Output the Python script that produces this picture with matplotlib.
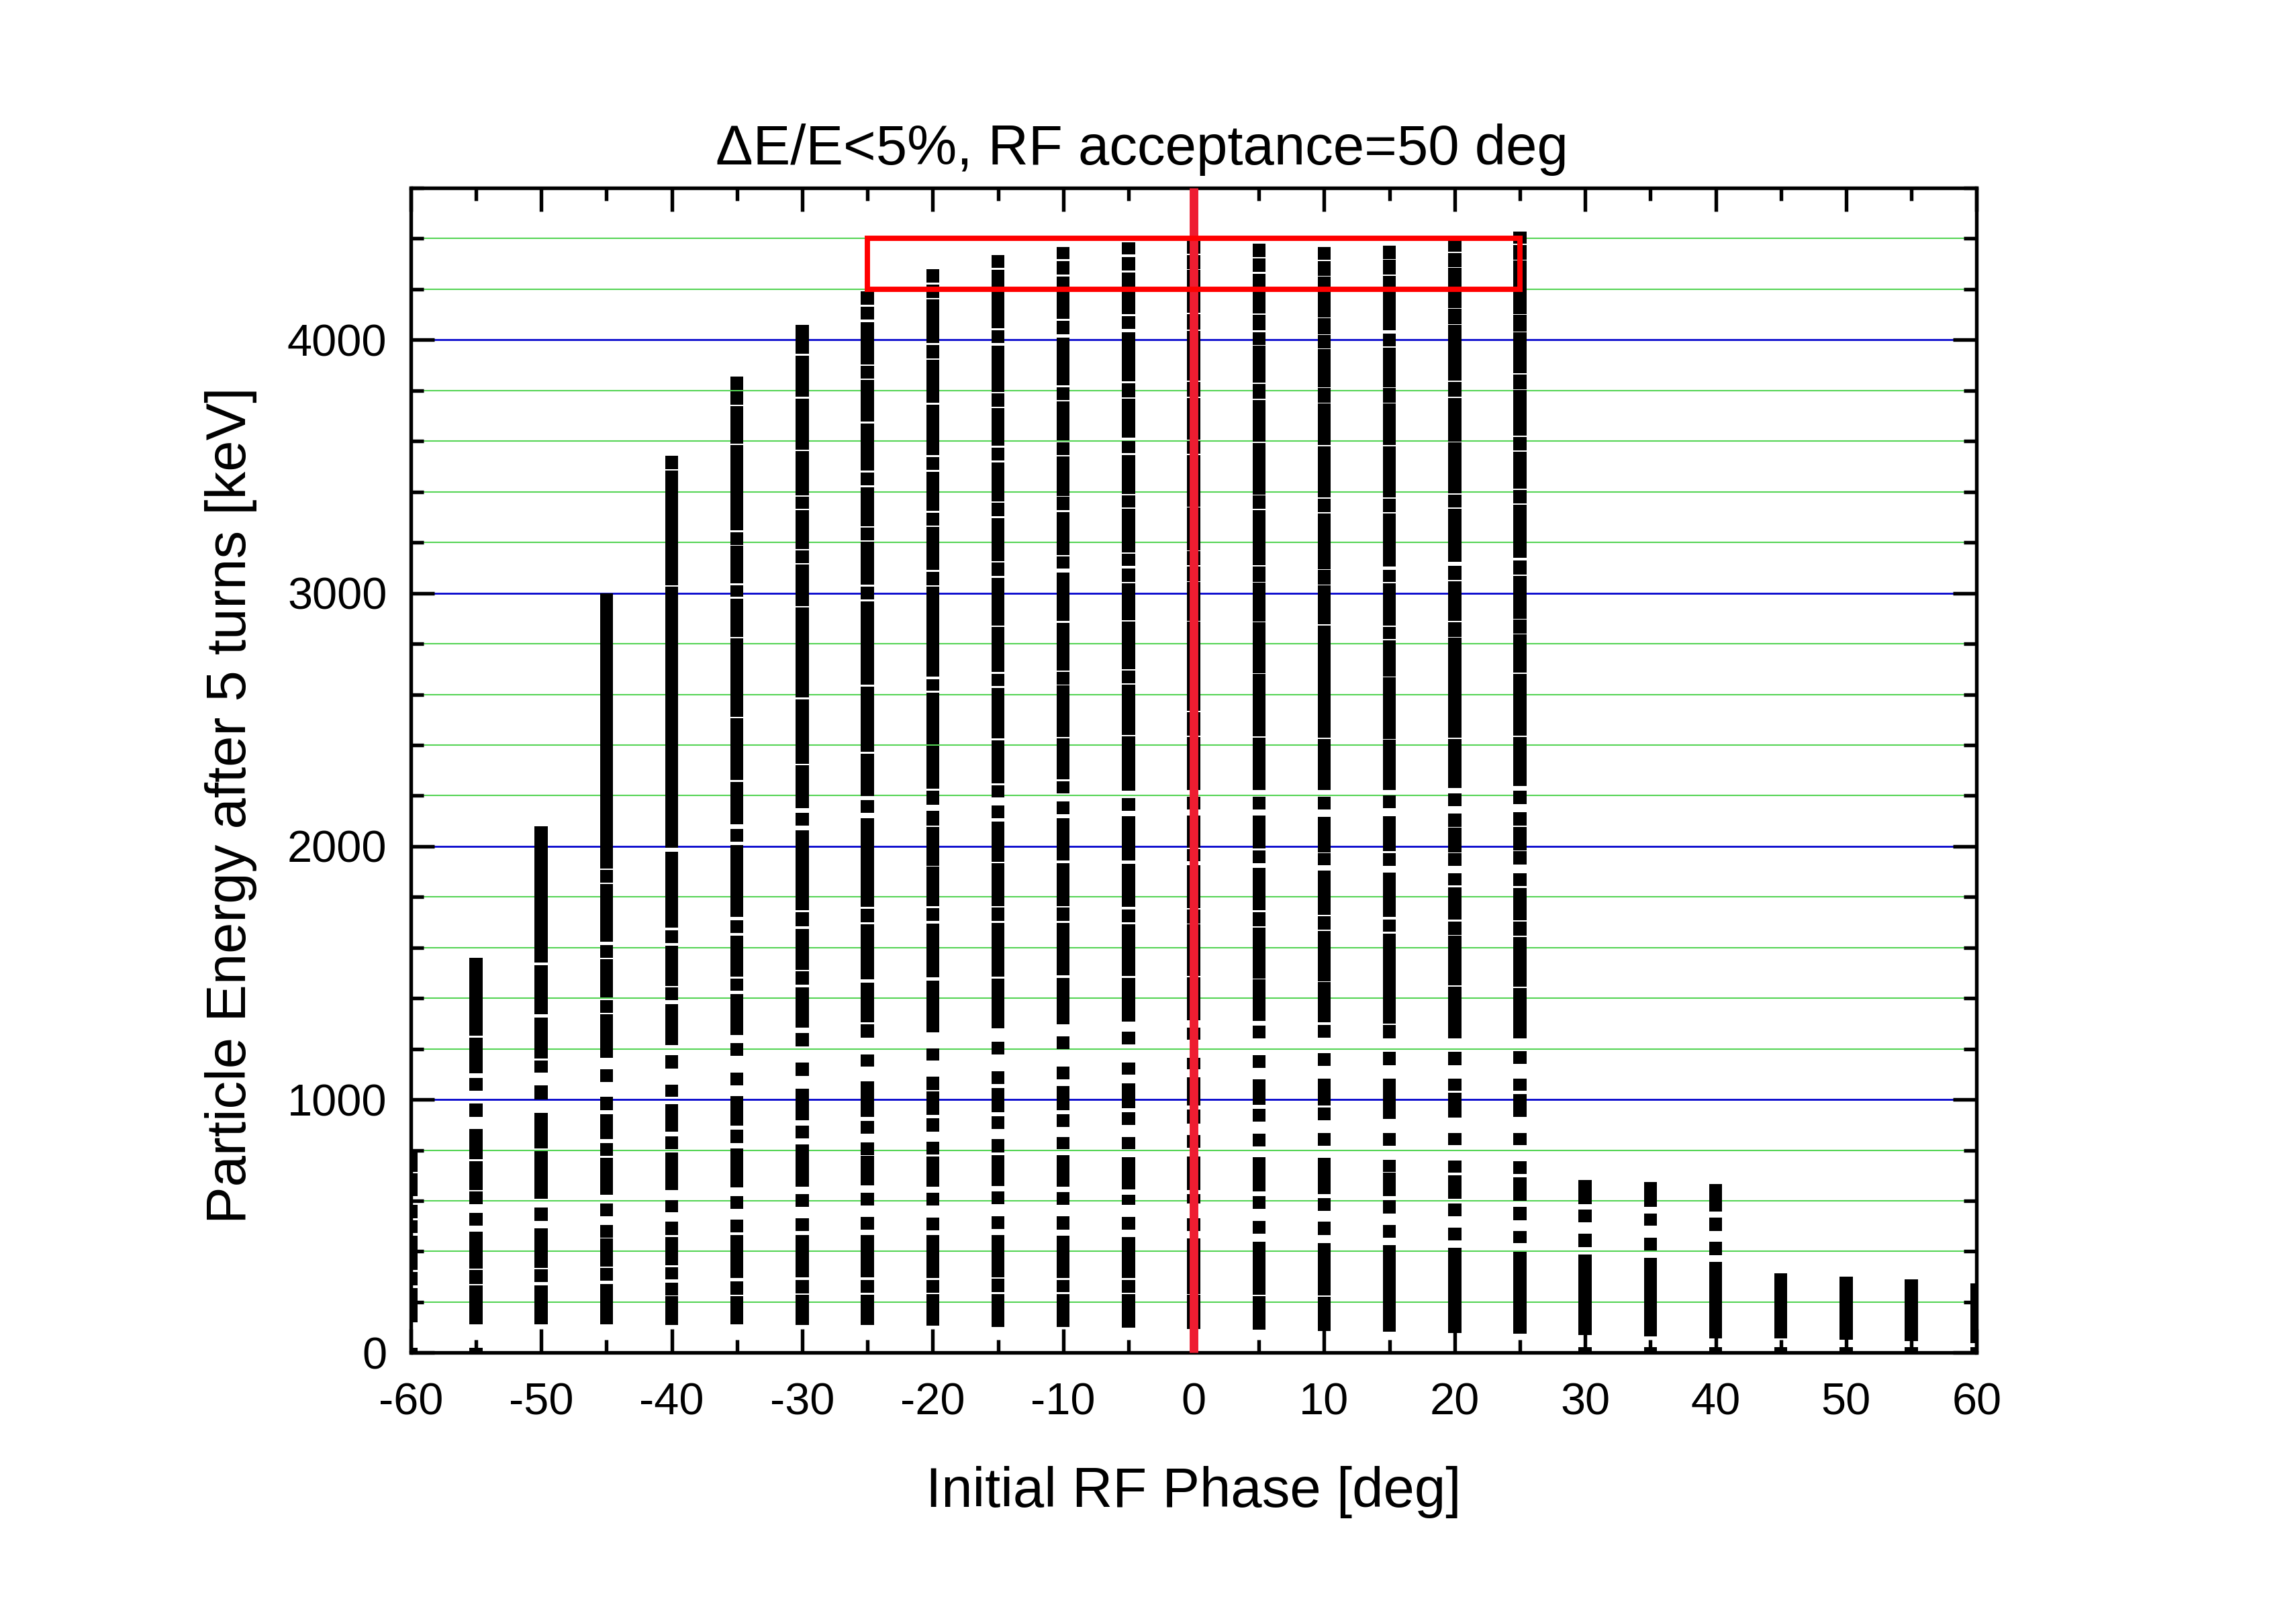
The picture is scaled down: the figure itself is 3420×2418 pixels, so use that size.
import matplotlib
matplotlib.use("Agg")
import matplotlib.pyplot as plt
from matplotlib.ticker import MultipleLocator
from matplotlib.patches import Rectangle

plt.rcParams['font.family'] = ['Liberation Sans', 'DejaVu Sans']
plt.rcParams['axes.unicode_minus'] = False

# initial RF phase of each particle column [deg]
phases = [-60, -55, -50, -45, -40, -35, -30, -25, -20, -15, -10, -5, 0,
          5, 10, 15, 20, 25, 30, 35, 40, 45, 50, 55, 60]

# energy bands covered by the particle markers, (low, high) in keV
bands_m60 = [(-20, 20), (120, 255), (267, 319), (326, 461), (473, 524), (531, 583),
             (620, 708), (715, 799)]
bands_m55 = [(-20, 20), (113, 266), (272, 326), (332, 477), (502, 552), (587, 637),
             (643, 756), (765, 885), (931, 984), (1036, 1086), (1104, 1245), (1251, 1560)]
bands_m50 = [(113, 266), (279, 330), (336, 492), (520, 574), (609, 797), (807, 948),
             (1001, 1055), (1107, 1155), (1161, 1324), (1337, 1530), (1540, 2080)]
bands_m45 = [(113, 272), (285, 335), (341, 452), (455, 505), (539, 589), (624, 769),
             (777, 828), (843, 942), (957, 1010), (1069, 1119), (1166, 1336), (1342, 1392),
             (1403, 1555), (1559, 1610), (1624, 1851), (1857, 1907), (1911, 3000)]
bands_m40 = [(110, 223), (226, 277), (291, 339), (345, 457), (465, 517), (555, 603),
             (642, 790), (803, 854), (873, 981), (1010, 1060), (1123, 1174), (1214, 1378),
             (1392, 1442), (1449, 1607), (1618, 1669), (1679, 1979), (1995, 3026),
             (3032, 3485), (3490, 3542)]
bands_m35 = [(113, 225), (230, 282), (294, 465), (476, 526), (568, 619), (652, 806),
             (829, 881), (896, 1014), (1055, 1107), (1173, 1224), (1255, 1417), (1430, 1478),
             (1486, 1648), (1658, 1709), (1721, 2006), (2018, 2069), (2088, 2253),
             (2261, 2505), (2511, 2822), (2828, 2979), (2985, 3032), (3038, 3186),
             (3191, 3240), (3247, 3585), (3589, 3738), (3744, 3797), (3803, 3854)]
bands_m30 = [(109, 228), (234, 288), (297, 465), (480, 531), (575, 627), (656, 822),
             (847, 898), (917, 1044), (1092, 1145), (1211, 1264), (1284, 1444), (1454, 1507),
             (1513, 1674), (1685, 1739), (1748, 2063), (2081, 2132), (2151, 2321),
             (2327, 2580), (2588, 2943), (2948, 3112), (3118, 3168), (3174, 3327),
             (3333, 3380), (3386, 3561), (3567, 3767), (3775, 3938), (3944, 4059)]
bands_m25 = [(109, 230), (238, 288), (299, 465), (487, 537), (581, 631), (662, 777),
             (781, 832), (866, 915), (932, 1073), (1130, 1178), (1243, 1296), (1305, 1462),
             (1474, 1693), (1699, 1754), (1762, 2110), (2132, 2182), (2198, 2366),
             (2373, 2631), (2639, 2968), (2976, 3026), (3034, 3202), (3209, 3259),
             (3265, 3418), (3426, 3477), (3483, 3670), (3677, 3841), (3847, 3897),
             (3903, 4069), (4081, 4132), (4140, 4191)]
bands_m20 = [(106, 232), (238, 288), (295, 465), (484, 534), (581, 632), (657, 776),
             (783, 834), (874, 925), (940, 1031), (1038, 1090), (1154, 1201), (1266, 1470),
             (1482, 1695), (1705, 1756), (1765, 1919), (1923, 2076), (2081, 2139),
             (2164, 2220), (2228, 2398), (2403, 2607), (2614, 2661), (2669, 3025),
             (3032, 3085), (3093, 3261), (3268, 3317), (3324, 3480), (3486, 3538),
             (3545, 3744), (3751, 3922), (3928, 3981), (3988, 4161), (4166, 4219), (4225, 4278)]
bands_m15 = [(103, 232), (239, 292), (297, 465), (489, 539), (587, 637), (659, 781),
             (792, 843), (883, 934), (949, 1045), (1062, 1113), (1179, 1229), (1282, 1477),
             (1486, 1697), (1706, 1759), (1765, 1933), (1939, 2099), (2111, 2161),
             (2192, 2240), (2249, 2418), (2426, 2626), (2632, 2682), (2688, 2867),
             (2872, 3059), (3069, 3121), (3127, 3296), (3303, 3356), (3361, 3517),
             (3523, 3573), (3582, 3730), (3736, 3788), (3795, 3978), (3987, 4038),
             (4046, 4276), (4284, 4334)]
bands_m10 = [(101, 232), (239, 288), (294, 461), (487, 539), (585, 634), (656, 781),
             (803, 851), (892, 941), (958, 1054), (1079, 1131), (1198, 1250), (1297, 1480),
             (1490, 1697), (1705, 1759), (1765, 1933), (1943, 2111), (2127, 2176),
             (2208, 2258), (2264, 2427), (2433, 2635), (2639, 2688), (2695, 2882),
             (2890, 3081), (3096, 3144), (3150, 3321), (3328, 3380), (3384, 3539),
             (3545, 3595), (3604, 3757), (3763, 3814), (3822, 4010), (4021, 4075),
             (4082, 4249), (4259, 4312), (4318, 4368)]
bands_m05 = [(98, 232), (238, 288), (294, 458), (485, 536), (583, 625), (646, 772),
             (804, 853), (900, 949), (966, 1065), (1098, 1147), (1217, 1269), (1307, 1480),
             (1488, 1692), (1701, 1751), (1762, 1930), (1945, 2118), (2139, 2190),
             (2220, 2435), (2441, 2638), (2644, 2694), (2700, 2887), (2894, 3038),
             (3044, 3097), (3107, 3156), (3162, 3333), (3339, 3386), (3392, 3546),
             (3552, 3602), (3613, 3767), (3774, 3829), (3836, 4029), (4043, 4094),
             (4101, 4265), (4275, 4328), (4337, 4386)]
bands_p00 = [(95, 228), (232, 451), (480, 531), (590, 627), (642, 774), (810, 861),
             (905, 960), (976, 1087), (1119, 1166), (1236, 1283), (1313, 1484), (1488, 1692),
             (1696, 1751), (1755, 1926), (1941, 1990), (1994, 2121), (2146, 2196),
             (2223, 2432), (2436, 2531), (2535, 2887), (2891, 3043), (3047, 3105),
             (3109, 3165), (3169, 3337), (3341, 3546), (3550, 3602), (3606, 3771),
             (3775, 3835), (3839, 4036), (4040, 4103), (4107, 4276), (4280, 4335), (4339, 4390)]
bands_p05 = [(91, 223), (230, 439), (470, 521), (568, 620), (637, 772), (815, 865),
             (913, 963), (979, 1081), (1126, 1175), (1242, 1292), (1310, 1474), (1478, 1678),
             (1684, 1740), (1747, 1914), (1933, 1984), (1992, 2121), (2146, 2196),
             (2223, 2430), (2434, 2680), (2684, 2884), (2888, 3041), (3045, 3105),
             (3109, 3329), (3333, 3385), (3389, 3594), (3598, 3763), (3767, 3826),
             (3830, 3976), (3980, 4031), (4038, 4098), (4104, 4260), (4269, 4322), (4328, 4381)]
bands_p10 = [(87, 222), (226, 433), (465, 517), (561, 612), (627, 769), (817, 869),
             (917, 969), (976, 1083), (1133, 1182), (1243, 1295), (1305, 1464), (1468, 1665),
             (1670, 1725), (1729, 1905), (1926, 1973), (1977, 2117), (2146, 2196),
             (2223, 2424), (2428, 2873), (2877, 3030), (3034, 3091), (3095, 3315),
             (3319, 3374), (3378, 3580), (3584, 3749), (3753, 3810), (3814, 3963),
             (3967, 4019), (4023, 4085), (4089, 4250), (4254, 4312), (4316, 4367)]
bands_p15 = [(84, 424), (455, 505), (549, 602), (620, 711), (715, 763), (817, 869),
             (923, 1082), (1136, 1189), (1242, 1295), (1299, 1656), (1662, 1711), (1721, 1897),
             (1923, 1973), (1980, 2118), (2151, 2202), (2223, 2421), (2425, 2667),
             (2671, 2814), (2818, 2867), (2871, 3039), (3043, 3093), (3105, 3315),
             (3319, 3374), (3378, 3580), (3584, 3749), (3753, 3810), (3814, 3970),
             (3974, 4025), (4038, 4254), (4258, 4316), (4320, 4371)]
bands_p20 = [(79, 414), (443, 493), (539, 590), (609, 700), (711, 759), (821, 869),
             (928, 1028), (1034, 1083), (1136, 1189), (1242, 1447), (1452, 1646), (1651, 1704),
             (1711, 1839), (1845, 1894), (1923, 1974), (1977, 2073), (2077, 2129),
             (2158, 2209), (2231, 2424), (2428, 2823), (2827, 2885), (2889, 3047),
             (3051, 3108), (3123, 3334), (3338, 3389), (3393, 3595), (3599, 3771),
             (3775, 3835), (3839, 4058), (4062, 4122), (4126, 4284), (4288, 4343), (4347, 4395)]
bands_p25 = [(76, 399), (432, 480), (524, 575), (600, 693), (705, 756), (821, 869),
             (931, 1022), (1034, 1082), (1140, 1192), (1242, 1441), (1446, 1642), (1648, 1702),
             (1709, 1835), (1842, 1894), (1929, 1980), (1984, 2077), (2083, 2136),
             (2168, 2220), (2237, 2433), (2437, 2682), (2686, 2836), (2840, 2895),
             (2899, 3069), (3073, 3130), (3140, 3349), (3353, 3408), (3412, 3559),
             (3563, 3617), (3621, 3801), (3805, 3864), (3868, 4030), (4034, 4099),
             (4103, 4313), (4317, 4375), (4379, 4429)]
bands_p30 = [(-22, 22), (71, 388), (417, 470), (514, 566), (586, 683)]
bands_p35 = [(-22, 22), (65, 375), (404, 455), (501, 550), (575, 675)]
bands_p40 = [(-22, 22), (58, 359), (386, 439), (481, 534), (558, 667)]
bands_p45 = [(-22, 22), (57, 314)]
bands_p50 = [(-22, 22), (51, 300)]
bands_p55 = [(-22, 22), (46, 290)]
bands_p60 = [(-22, 22), (38, 275)]

columns = [bands_m60, bands_m55, bands_m50, bands_m45, bands_m40, bands_m35,
           bands_m30, bands_m25, bands_m20, bands_m15, bands_m10, bands_m05,
           bands_p00, bands_p05, bands_p10, bands_p15, bands_p20, bands_p25,
           bands_p30, bands_p35, bands_p40, bands_p45, bands_p50, bands_p55, bands_p60]

# acceptance window marked in red
window_phase = (-25, 25)
window_energy = (4200, 4400)

fig = plt.figure(figsize=(11.4, 8.06), dpi=300)
ax = fig.add_axes([0.1789, 0.1665, 0.682, 0.7177])

for ph, bands in zip(phases, columns):
    lows = [b[0] for b in bands]
    heights = [b[1] - b[0] for b in bands]
    ax.bar([ph] * len(bands), heights, bottom=lows, width=1.0,
           color='black', linewidth=0, zorder=2)

ax.set_xlim(-60, 60)
ax.set_ylim(0, 4600)
ax.xaxis.set_major_locator(MultipleLocator(10))
ax.xaxis.set_minor_locator(MultipleLocator(5))
ax.yaxis.set_major_locator(MultipleLocator(1000))
ax.yaxis.set_minor_locator(MultipleLocator(200))

ax.set_axisbelow(True)
ax.yaxis.grid(True, which='major', color='#0000cc', lw=0.65)
ax.yaxis.grid(True, which='minor', color='#55d455', lw=0.5)

for s in ax.spines.values():
    s.set_linewidth(1.3)
ax.tick_params(which='both', direction='in', top=True, right=True, width=1.3,
               labelsize=16, pad=8.5)
ax.tick_params(axis='x', which='both', pad=10.5)
ax.tick_params(which='major', length=8.5)
ax.tick_params(which='minor', length=4.5)

# phase 0 marker and acceptance window
ax.plot([0, 0], [0, 4600], color='#ee1d31', lw=3.1, solid_capstyle='butt', zorder=4,
        clip_on=False)
ax.add_patch(Rectangle((window_phase[0], window_energy[0]),
                       window_phase[1] - window_phase[0],
                       window_energy[1] - window_energy[0],
                       fill=False, edgecolor='#ff0000', lw=1.9, zorder=4))

ax.set_xlabel('Initial RF Phase [deg]', fontsize=20, labelpad=15)
ax.set_ylabel('Particle Energy after 5 turns [keV]', fontsize=20)
ax.yaxis.set_label_coords(-0.098, 0.47)
ax.text(0.467, 1.02, '\u0394E/E<5%, RF acceptance=50 deg', transform=ax.transAxes,
        ha='center', va='baseline', fontsize=20)

fig.savefig('out.png', dpi=300)
